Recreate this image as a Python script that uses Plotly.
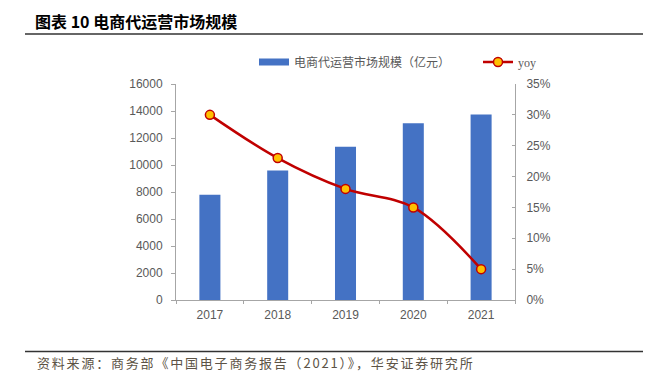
import plotly.graph_objects as go

years = ["2017", "2018", "2019", "2020", "2021"]
market_size = [7800, 9600, 11350, 13100, 13750]
yoy = [0.30, 0.23, 0.18, 0.15, 0.05]

title_text = "图表 10 电商代运营市场规模"
source_text = "资料来源：商务部《中国电子商务报告（2021）》，华安证券研究所"
bar_name = "电商代运营市场规模（亿元）"
line_name = '<span style="font-family:Liberation Serif">yoy</span>'

bar_color = "#4472C4"
axis_color = "#A6A6A6"
label_color = "#595959"
cjk = "Noto Sans CJK SC"
latin = "Liberation Sans"

# page body adds an 8px offset; layout values below are in figure pixels
OFF = 8
W, H = 651 - OFF, 380 - OFF
L, R, T, B = 168, 136, 76, 80
pw, ph = W - L - R, H - T - B


def px_x(x):
    # window pixel -> paper fraction
    return (x - OFF - L) / pw


def px_y(y):
    return (H - B - (y - OFF)) / ph


fig = go.Figure()
fig.add_trace(go.Bar(
    x=years, y=market_size, name=bar_name,
    marker=dict(color=bar_color, line=dict(width=0)),
    yaxis="y", showlegend=False, legendgroup="bar",
))
# legend entry for the bars, drawn as a wide flat swatch like the original
fig.add_trace(go.Scatter(
    x=[None], y=[None], name=bar_name, mode="lines",
    line=dict(color=bar_color, width=7), legend="legend",
    legendgroup="bar", hoverinfo="skip",
))
fig.add_trace(go.Scatter(
    x=years, y=yoy, name=line_name, yaxis="y2", legend="legend2",
    mode="lines+markers",
    line=dict(color="#C00000", width=2.5, shape="spline", smoothing=1),
    marker=dict(size=9, color="#FFC000", line=dict(color="#C00000", width=1.5)),
))

legend_common = dict(
    orientation="h", xref="container", yref="container",
    xanchor="left", yanchor="middle",
    font=dict(family=cjk, size=12, color=label_color),
    bgcolor="rgba(0,0,0,0)",
)

fig.update_layout(
    width=W, height=H,
    margin=dict(l=L, r=R, t=T, b=B, autoexpand=False),
    paper_bgcolor="white", plot_bgcolor="white",
    bargap=0.69,
    font=dict(family=latin, size=12, color=label_color),
    showlegend=True,
    legend=dict(legend_common, x=246 / W, y=1 - 54 / H),
    legend2=dict(legend_common, x=470 / W, y=1 - 54 / H),
    xaxis=dict(
        type="category", showline=True, linecolor=axis_color, linewidth=1,
        ticks="outside", ticklen=3, tickcolor=axis_color,
        showgrid=False, zeroline=False, tickson="boundaries",
        ticklabelstandoff=4,
        tickfont=dict(family=latin, size=12, color=label_color),
    ),
    yaxis=dict(
        range=[0, 16000], dtick=2000, showline=True, linecolor=axis_color,
        linewidth=1, ticks="outside", ticklen=4, tickcolor=axis_color,
        showgrid=False, zeroline=False, tickformat="d",
        ticklabelstandoff=6,
        tickfont=dict(family=latin, size=12, color=label_color),
    ),
    yaxis2=dict(
        range=[0, 0.35], dtick=0.05, overlaying="y", side="right",
        showline=True, linecolor=axis_color, linewidth=1,
        ticks="inside", ticklen=3, tickcolor=axis_color,
        showgrid=False, zeroline=False, tickformat=".0%",
        ticklabelstandoff=8,
        tickfont=dict(family=latin, size=12, color=label_color),
    ),
    title=dict(
        text="<b>" + title_text + "</b>",
        x=27 / W, xanchor="left",
        y=1 - 14 / H, yanchor="middle",
        font=dict(family=cjk, size=16, color="#000000"),
    ),
    annotations=[dict(
        text='<span style="letter-spacing:1.8px">' + source_text + "</span>",
        xref="paper", yref="paper",
        x=px_x(35), y=px_y(362), xanchor="left", yanchor="middle", showarrow=False,
        font=dict(family=cjk, size=13, color="#5C5346"),
    )],
    shapes=[
        dict(type="line", xref="paper", yref="paper", x0=px_x(25), x1=px_x(660),
             y0=px_y(34), y1=px_y(34), line=dict(color="#333333", width=1.5)),
        dict(type="line", xref="paper", yref="paper", x0=px_x(25), x1=px_x(660),
             y0=px_y(351.5), y1=px_y(351.5), line=dict(color="#333333", width=1.5)),
    ],
)

fig.write_html("out.html")
